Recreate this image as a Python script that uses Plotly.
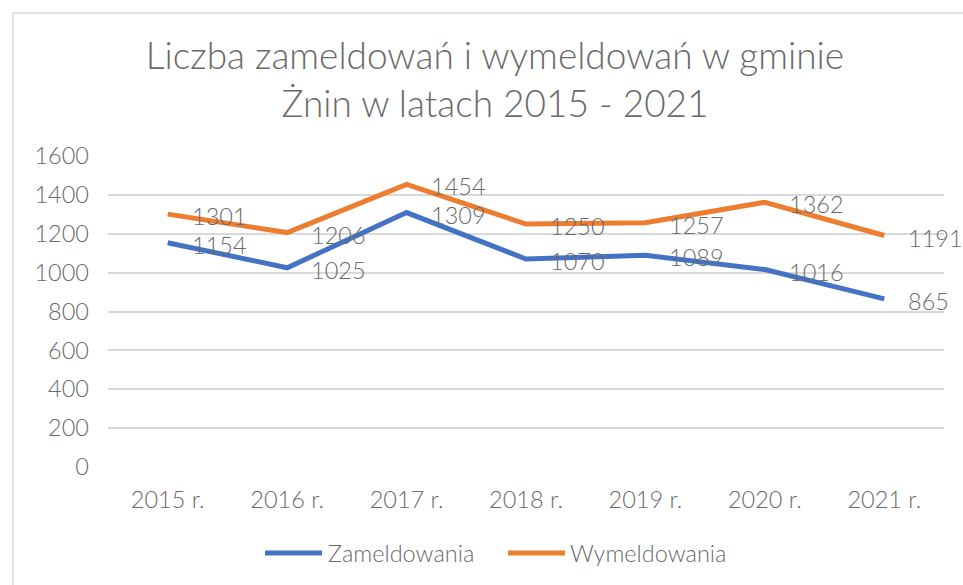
import plotly.graph_objects as go

years = ["2015 r.", "2016 r.", "2017 r.", "2018 r.", "2019 r.", "2020 r.", "2021 r."]
zameldowania = [1154, 1025, 1309, 1070, 1089, 1016, 865]
wymeldowania = [1301, 1206, 1454, 1250, 1257, 1362, 1191]
series_names = ["Zameldowania", "Wymeldowania"]
series_colors = ["#4472C4", "#ED7D31"]
y_ticks = [0, 200, 400, 600, 800, 1000, 1200, 1400, 1600]

FONT = "Lato Light, Lato"
GRAY = "#6a6a6a"
W, H = 963, 585
L, R, T, B = 108, 19, 156, 118
PW, PH = W - L - R, H - T - B


def px(x):
    return (x - L) / PW


def py(y):
    return (H - B - y) / PH


fig = go.Figure()
annotations = []
for name, color, vals in zip(series_names, series_colors, [zameldowania, wymeldowania]):
    fig.add_trace(go.Scatter(
        x=years, y=vals, name=name, mode="lines",
        line=dict(color=color, width=5), showlegend=False, hoverinfo="skip",
    ))
    for xv, yv in zip(years, vals):
        annotations.append(dict(
            x=xv, y=yv, xref="x", yref="y", text=str(yv), showarrow=False,
            xanchor="left", yanchor="middle", xshift=22, yshift=-2,
            font=dict(family=FONT, size=23.5, color=GRAY, weight=300),
        ))

# custom legend (Excel-like long line symbols)
shapes = [dict(
    type="rect", xref="paper", yref="paper",
    x0=px(13), x1=1.2, y0=-0.6, y1=py(13),
    line=dict(color="#D9D9D9", width=1.5), layer="below",
)]
legend_x = [(265, 322, 326), (508, 565, 568)]
for (lx0, lx1, tx), name, color in zip(legend_x, series_names, series_colors):
    shapes.append(dict(
        type="line", xref="paper", yref="paper",
        x0=px(lx0), x1=px(lx1), y0=py(553), y1=py(553),
        line=dict(color=color, width=5),
    ))
    annotations.append(dict(
        x=px(tx), y=py(553), xref="paper", yref="paper", text=name,
        showarrow=False, xanchor="left", yanchor="middle",
        font=dict(family=FONT, size=23.5, color=GRAY, weight=300),
    ))

fig.update_layout(
    width=W, height=H,
    margin=dict(l=L, r=R, t=T, b=B),
    paper_bgcolor="white", plot_bgcolor="white",
    font=dict(family=FONT, color=GRAY, size=23.5, weight=300),
    title=dict(
        text="Liczba zameldowań i wymeldowań w gminie<br>Żnin w latach 2015 - 2021",
        x=495 / W, xanchor="center", y=1 - 69 / H, yanchor="middle", yref="container",
        font=dict(family=FONT, size=37, color=GRAY, weight=300),
    ),
    xaxis=dict(
        type="category", range=[-0.5, 6.5], showgrid=False, showline=False,
        ticks="", ticklabelstandoff=16, tickfont=dict(size=23.5),
    ),
    yaxis=dict(
        range=[0, 1600], tickvals=y_ticks, showgrid=True, gridcolor="#D9D9D9",
        gridwidth=1.5, zeroline=False, showline=False, ticks="",
        ticklabelstandoff=18, tickfont=dict(size=23.5),
    ),
    showlegend=False,
    hovermode=False,
    shapes=shapes,
    annotations=annotations,
)

fig.write_html("out.html", config={"displayModeBar": False},
               post_script="document.body.style.margin='0';")
